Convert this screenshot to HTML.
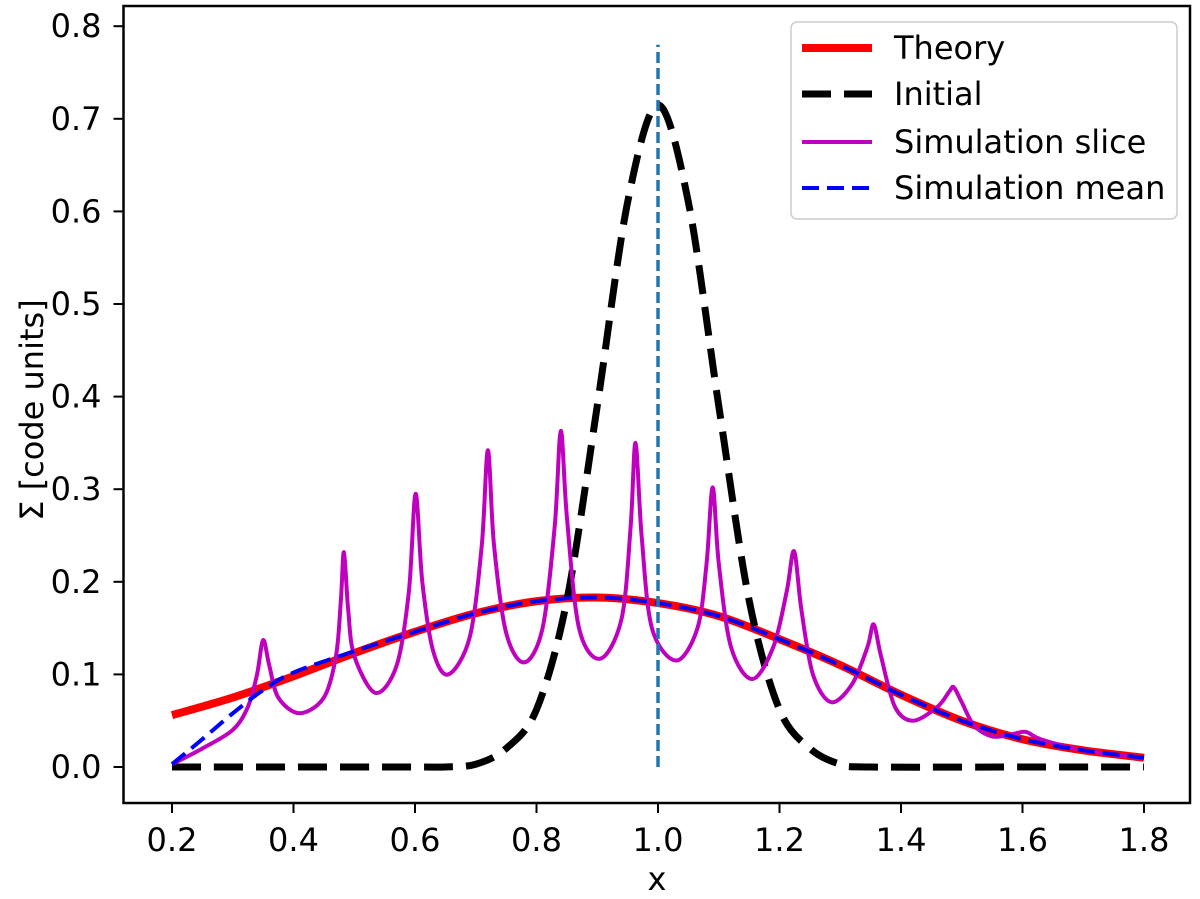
<!DOCTYPE html>
<html><head><meta charset="utf-8"><style>
body{margin:0;background:#fff;}
svg{display:block;font-family:"DejaVu Sans","Liberation Sans",sans-serif;}
</style></head><body>
<svg id="chart" width="1200" height="899">
<g id="plot"></g>
<g id="axes"></g>
</svg>
<script>
const xTicks=[0.2,0.4,0.6,0.8,1.0,1.2,1.4,1.6,1.8];
const xTickLabels=["0.2","0.4","0.6","0.8","1.0","1.2","1.4","1.6","1.8"];
const yTicks=[0,0.1,0.2,0.3,0.4,0.5,0.6,0.7,0.8];
const yTickLabels=["0.0","0.1","0.2","0.3","0.4","0.5","0.6","0.7","0.8"];
const theoryX=[0.2,0.3,0.4,0.5,0.6,0.7,0.8,0.9,1.0,1.1,1.2,1.3,1.4,1.5,1.6,1.7,1.8];
const theoryY=[0.056,0.075,0.098,0.123,0.146,0.166,0.179,0.183,0.177,0.163,0.138,0.11,0.078,0.05,0.03,0.018,0.01];
const meanX=[0.2,0.25,0.3,0.35,0.4,0.5,0.6,0.7,0.8,0.9,1.0,1.1,1.2,1.3,1.4,1.5,1.6,1.7,1.8];
const meanY=[0.003,0.03,0.058,0.083,0.102,0.125,0.146,0.166,0.179,0.183,0.177,0.163,0.138,0.11,0.078,0.05,0.03,0.018,0.01];
const initX=[0.2,0.4,0.6,0.65,0.7,0.75,0.8,0.85,0.9,0.95,1.0,1.05,1.1,1.15,1.2,1.25,1.3,1.35,1.6,1.8];
const initY=[0,0,0,0.0,0.003,0.02,0.062,0.18,0.39,0.61,0.715,0.61,0.39,0.18,0.062,0.02,0.003,0,0,0];
const sliceX=[0.2,0.25,0.3,0.325,0.34,0.35,0.36,0.375,0.41,0.45,0.47,0.478,0.483,0.49,0.5,0.535,0.57,0.59,0.601,0.612,0.63,0.655,0.69,0.71,0.72,0.73,0.75,0.78,0.81,0.83,0.84,0.85,0.87,0.905,0.94,0.955,0.963,0.973,0.99,1.03,1.065,1.08,1.09,1.1,1.12,1.155,1.19,1.212,1.224,1.236,1.255,1.285,1.32,1.345,1.355,1.367,1.39,1.42,1.46,1.48,1.487,1.5,1.52,1.55,1.58,1.605,1.63,1.7,1.8];
const sliceY=[0.003,0.02,0.04,0.065,0.1,0.137,0.11,0.075,0.058,0.075,0.12,0.18,0.232,0.17,0.12,0.08,0.11,0.19,0.295,0.2,0.125,0.1,0.14,0.24,0.342,0.24,0.145,0.113,0.15,0.26,0.363,0.27,0.15,0.117,0.16,0.26,0.35,0.25,0.15,0.115,0.15,0.22,0.302,0.22,0.13,0.095,0.13,0.19,0.233,0.17,0.1,0.07,0.09,0.13,0.154,0.12,0.065,0.05,0.065,0.082,0.086,0.07,0.045,0.033,0.035,0.038,0.03,0.018,0.01];
const vlineX=[1.0], vlineTop=[0.78];

const NS="http://www.w3.org/2000/svg";
const L=123.5,R=1190,T=6,B=803;
const sx=v=>172+(v-0.2)/0.2*121.5;
const sy=v=>767-v/0.1*92.6;
const plot=document.getElementById('plot'),axes=document.getElementById('axes');
function mk(tag,at,parent){const e=document.createElementNS(NS,tag);for(const k in at)e.setAttribute(k,at[k]);parent.appendChild(e);return e;}
function smooth(xs,ys){const p=xs.map((x,i)=>[sx(x),sy(ys[i])]);let d=`M${p[0][0]},${p[0][1]}`;
for(let i=0;i<p.length-1;i++){const p0=p[Math.max(0,i-1)],p1=p[i],p2=p[i+1],p3=p[Math.min(p.length-1,i+2)];
const t=0.16;const c1=[p1[0]+(p2[0]-p0[0])*t,p1[1]+(p2[1]-p0[1])*t],c2=[p2[0]-(p3[0]-p1[0])*t,p2[1]-(p3[1]-p1[1])*t];
d+=` C${c1[0]},${c1[1]} ${c2[0]},${c2[1]} ${p2[0]},${p2[1]}`;}return d;}
let e;
e=mk('path',{d:smooth(theoryX,theoryY),fill:'none',stroke:'#ff0000','stroke-width':8},plot);


e=mk('path',{d:smooth(initX,initY),fill:'none',stroke:'#000','stroke-width':7,'stroke-dasharray':'29,13'},plot);


e=mk('path',{d:smooth(sliceX,sliceY),fill:'none',stroke:'#bf00bf','stroke-width':4},plot);


e=mk('path',{d:smooth(meanX,meanY),fill:'none',stroke:'#0000ff','stroke-width':4,'stroke-dasharray':'17,8'},plot);


e=mk('line',{x1:sx(vlineX[0]),x2:sx(vlineX[0]),y1:sy(0),y2:sy(vlineTop[0]),stroke:'#1f77b4','stroke-width':3.5,'stroke-dasharray':'11,5'},plot);


e=mk('rect',{x:L,y:T,width:R-L,height:B-T,fill:'none',stroke:'#000','stroke-width':2.5},axes);


xTicks.forEach((v,i)=>{const x=sx(v);
mk('line',{x1:x,x2:x,y1:B,y2:B+10,stroke:'#000','stroke-width':2},axes);
const t=mk('text',{x:x,y:B+48,'text-anchor':'middle','font-size':32},axes);t.textContent=xTickLabels[i];

});
yTicks.forEach((v,i)=>{const y=sy(v);
mk('line',{x1:L-10,x2:L,y1:y,y2:y,stroke:'#000','stroke-width':2},axes);
const t=mk('text',{x:L-22,y:y+11,'text-anchor':'end','font-size':32},axes);t.textContent=yTickLabels[i];

});
e=mk('text',{x:657,y:890,'text-anchor':'middle','font-size':32},axes);e.textContent='x';


e=mk('text',{x:0,y:0,'text-anchor':'middle','font-size':32,transform:'translate(43,410) rotate(-90)'},axes);e.textContent='Σ [code units]';


const lg=mk('g',{},axes);


mk('rect',{x:791,y:22,width:386,height:197,rx:6,fill:'#fff','fill-opacity':0.8,stroke:'#ccc','stroke-width':1.5},lg);
const entries=[['Theory','#ff0000',8,''],['Initial','#000',7,'29,13'],['Simulation slice','#bf00bf',4,''],['Simulation mean','#0000ff',4,'17,8']];
entries.forEach((en,i)=>{const y=[48,94,142,188][i];
const g=mk('g',{},lg);


mk('line',{x1:802,x2:872,y1:y,y2:y,stroke:en[1],'stroke-width':en[2],'stroke-dasharray':en[3]},g);
const t=mk('text',{x:894,y:y+11,'font-size':32},g);t.textContent=en[0];});
</script>
</body></html>
